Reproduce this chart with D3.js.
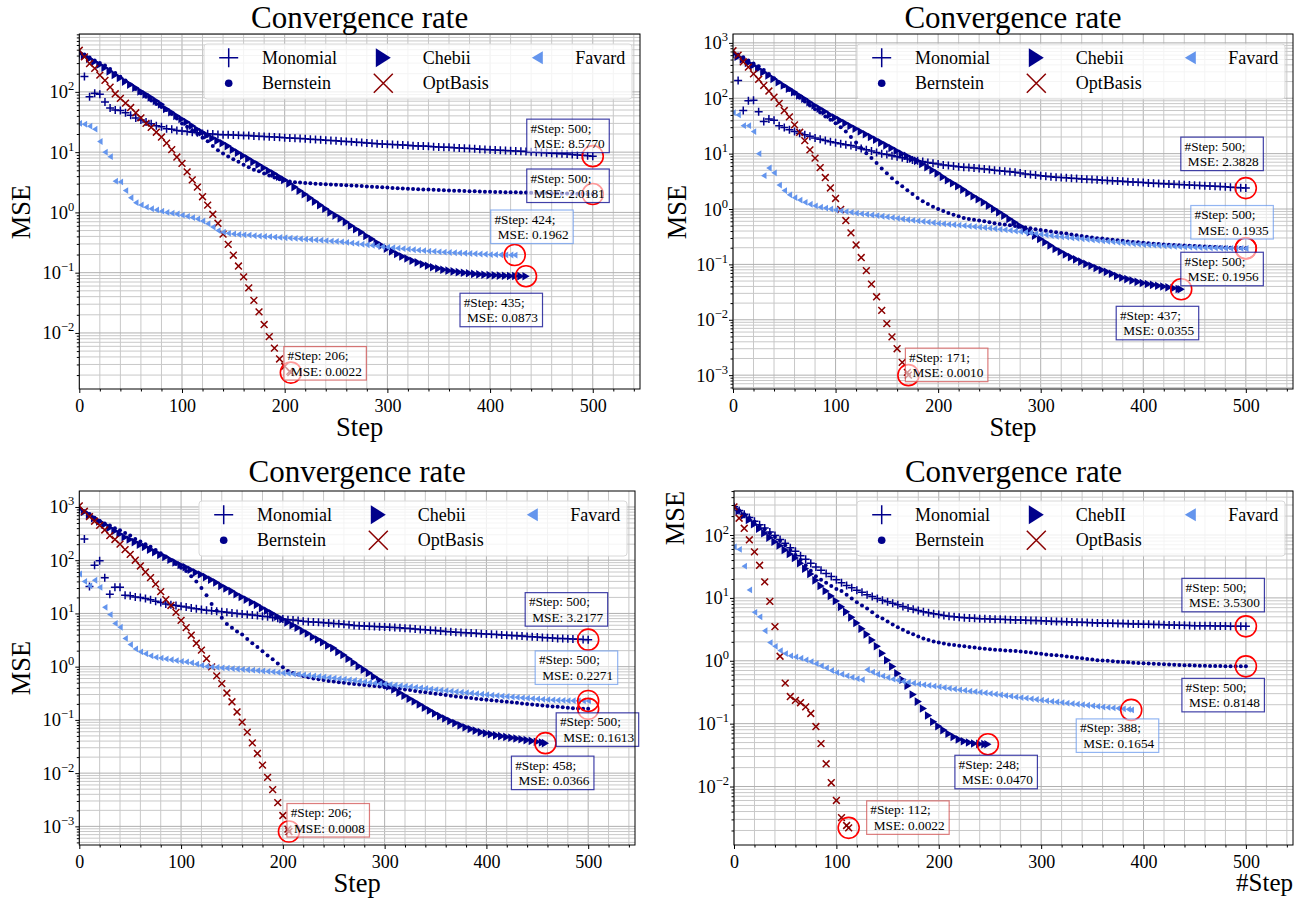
<!DOCTYPE html>
<html><head><meta charset="utf-8">
<script src="https://cdn.jsdelivr.net/npm/d3@7"></script>
<style>
body{margin:0;background:#fff}
svg{display:block}
text{font-family:"Liberation Serif","Times New Roman",Times,serif;fill:#000}
</style>
</head><body>
<svg id="c" width="1305" height="901"></svg>
<script>
// ---------------- DATA ----------------
const SAMPLE_EVERY = 5; // one marker every 5 steps
const titleText = "Convergence rate";
const seriesKeys = ["Monomial","Bernstein","Chebii","OptBasis","Favard"];
const legendLabelsA = ["Monomial","Bernstein","Chebii","OptBasis","Favard"];
const legendLabelsB = ["Monomial","Bernstein","ChebII","OptBasis","Favard"];
const xTickValues = [0,100,200,300,400,500];
const xLabels = ["Step","Step","Step","#Step"];
const yLabel = "MSE";

// Panel 1 (top-left)
const p1Monomial = [420,180,83,95,91,68,54,50,49,45,
 41,37,34,31.6,29.5,27.5,26.3,24.5,24.0,22.9,
 22.4,21.9,21.4,20.9,20.4,20.2,20.0,19.7,19.5,19.4,
 19.2,19.0,18.9,18.8,18.6,18.4,18.2,18.0,17.8,17.6,
 17.4,17.2,17.0,16.8,16.6,16.4,16.2,16.0,15.8,15.6,
 15.4,15.2,15.0,14.8,14.6,14.4,14.2,14.0,13.8,13.6,
 13.5,13.4,13.2,13.1,13.0,12.8,12.7,12.6,12.5,12.3,
 12.2,12.1,12.0,11.8,11.7,11.6,11.5,11.4,11.2,11.1,
 11.0,10.9,10.7,10.6,10.5,10.4,10.3,10.2,10.1,10.0,
 9.9,9.75,9.6,9.5,9.4,9.3,9.15,9.0,8.9,8.75];
const p1Bernstein = [460,415,370,330,300,275,240,205,178,155,
 132,112,95,83,72,63,56,50,43,36,
 30,26.3,22.9,20.0,17.4,15.1,12.6,10.7,9.5,8.5,
 7.6,6.9,6.2,5.6,5.1,4.8,4.4,4.1,3.8,3.55,
 3.4,3.27,3.16,3.12,3.08,3.04,3.00,2.97,2.94,2.91,
 2.88,2.85,2.82,2.79,2.76,2.73,2.70,2.67,2.64,2.61,
 2.58,2.55,2.52,2.49,2.47,2.45,2.43,2.41,2.39,2.37,
 2.35,2.33,2.31,2.29,2.28,2.26,2.25,2.24,2.22,2.21,
 2.20,2.19,2.18,2.17,2.16,2.15,2.14,2.13,2.12,2.11,
 2.10,2.09,2.08,2.07,2.06,2.05,2.045,2.04,2.03,2.025];
const p1Chebii = [447,398,355,316,282,251,219,191,170,148,
 132,117,102,91,81,71,62,52,46,40,
 35.5,31.6,27.5,24.0,21.4,19.1,17.0,15.5,14.1,12.6,
 11.0,9.8,8.7,7.8,6.9,6.2,5.5,4.9,4.4,3.9,
 3.47,3.02,2.63,2.29,2.0,1.74,1.51,1.32,1.15,1.0,
 0.89,0.79,0.69,0.60,0.525,0.468,0.407,0.363,0.316,0.282,
 0.251,0.226,0.204,0.186,0.172,0.158,0.148,0.138,0.130,0.123,
 0.117,0.112,0.108,0.105,0.102,0.100,0.098,0.0955,0.0938,0.0923,
 0.0912,0.0903,0.0895,0.0889,0.0883,0.0879,0.0875];
const p1OptBasis = [490,380,295,245,190,155,120,93,78,65,
 55,45,37,30,25.7,21.4,17.8,14.1,11.0,8.3,
 6.5,4.7,3.47,2.63,1.82,1.32,0.93,0.66,0.437,0.295,
 0.195,0.129,0.085,0.056,0.0347,0.0224,0.0138,0.0087,0.0056,0.0037,
 0.0028,0.0023];
const p1Favard = [30,29,27,24,15,10,8.4,3.3,3.2,2.3,
 1.75,1.45,1.33,1.22,1.15,1.10,1.05,1.00,0.97,0.94,
 0.90,0.86,0.82,0.78,0.72,0.65,0.57,0.50,0.47,0.45,
 0.44,0.43,0.425,0.42,0.41,0.405,0.40,0.395,0.39,0.385,
 0.38,0.375,0.37,0.365,0.36,0.355,0.35,0.345,0.34,0.335,
 0.33,0.325,0.318,0.31,0.303,0.296,0.29,0.283,0.276,0.27,
 0.265,0.26,0.255,0.25,0.245,0.24,0.236,0.232,0.228,0.225,
 0.222,0.219,0.216,0.214,0.212,0.21,0.208,0.206,0.204,0.202,
 0.2,0.199,0.198,0.197,0.1965];
const p1FinalSteps = [500,500,435,206,424];
const p1FinalMSE = [8.5770,2.0181,0.0873,0.0022,0.1962];

// Panel 2 (top-right)
const p2Monomial = [630,210,60,90,92,57,38,42,40,32,
 29.5,27,25,23.4,22,20.5,19.2,18.2,17.2,16.4,
 15.7,15.1,14.5,14.0,13.2,12.4,11.7,11.1,10.5,10.0,
 9.6,9.2,8.8,8.4,8.0,7.7,7.4,7.2,6.9,6.7,
 6.5,6.25,6.1,5.95,5.8,5.7,5.6,5.5,5.4,5.25,
 5.15,5.0,4.9,4.8,4.7,4.6,4.45,4.3,4.2,4.1,
 4.0,3.9,3.82,3.76,3.7,3.65,3.6,3.55,3.5,3.45,
 3.4,3.36,3.32,3.28,3.24,3.2,3.16,3.12,3.08,3.04,
 3.0,2.96,2.93,2.9,2.87,2.84,2.81,2.78,2.75,2.72,
 2.69,2.66,2.63,2.6,2.57,2.54,2.51,2.48,2.45,2.42];
const p2Bernstein = [690,615,550,480,425,380,325,275,230,195,
 166,141,120,102,87,74,63,55,47,41,
 35.5,30,25,20,15.8,12.6,10.2,8.3,6.8,5.4,
 4.4,3.6,3.0,2.57,2.19,1.86,1.58,1.38,1.23,1.10,
 1.0,0.92,0.85,0.79,0.74,0.69,0.66,0.64,0.62,0.60,
 0.575,0.555,0.537,0.525,0.507,0.495,0.48,0.462,0.447,0.432,
 0.417,0.407,0.394,0.38,0.37,0.36,0.347,0.335,0.324,0.316,
 0.305,0.298,0.292,0.285,0.279,0.272,0.266,0.26,0.254,0.25,
 0.245,0.24,0.237,0.234,0.229,0.226,0.224,0.221,0.219,0.216,
 0.214,0.212,0.21,0.208,0.206,0.204,0.202,0.2,0.198,0.197];
const p2Chebii = [630,560,500,436,390,340,295,257,224,195,
 170,148,129,112,98,85,74,65,57.5,50,
 44.7,39.8,35.5,31.6,28.2,25.1,22.4,20.0,17.8,15.8,
 14.1,12.6,11.2,10.0,9.1,8.1,7.4,6.5,5.7,5.0,
 4.4,3.8,3.3,2.92,2.57,2.24,1.95,1.70,1.50,1.32,
 1.15,1.0,0.87,0.76,0.66,0.575,0.50,0.437,0.38,0.331,
 0.288,0.251,0.219,0.19,0.17,0.151,0.135,0.123,0.112,0.102,
 0.0944,0.086,0.079,0.0733,0.0676,0.0617,0.0575,0.0543,0.0513,0.0484,
 0.0462,0.0442,0.0427,0.0412,0.0398,0.0385,0.0372,0.0359];
const p2OptBasis = [720,600,455,365,275,220,170,135,105,81,
 60,46,33,24.3,17.2,11.7,8.3,5.6,3.7,2.4,
 1.55,0.98,0.62,0.37,0.224,0.133,0.077,0.044,0.026,0.0148,
 0.0085,0.0049,0.003,0.0017,0.00112];
const p2Favard = [55,50,32,32,25,10,4.0,5.5,4.5,2.7,
 2.15,1.8,1.6,1.45,1.32,1.22,1.14,1.08,1.04,1.0,
 0.96,0.93,0.90,0.87,0.84,0.82,0.80,0.78,0.76,0.74,
 0.72,0.70,0.68,0.66,0.64,0.625,0.61,0.595,0.58,0.565,
 0.55,0.54,0.53,0.52,0.51,0.50,0.49,0.48,0.47,0.46,
 0.45,0.44,0.43,0.42,0.41,0.40,0.39,0.38,0.37,0.36,
 0.35,0.34,0.33,0.32,0.315,0.31,0.30,0.295,0.29,0.283,
 0.277,0.271,0.265,0.26,0.255,0.25,0.245,0.24,0.236,0.232,
 0.228,0.225,0.222,0.219,0.216,0.213,0.211,0.209,0.207,0.205,
 0.203,0.201,0.2,0.199,0.198,0.197,0.196,0.195,0.1945,0.194];
const p2FinalSteps = [500,500,437,171,500];
const p2FinalMSE = [2.3828,0.1956,0.0355,0.0010,0.1935];

// Panel 3 (bottom-left)
const p3Monomial = [890,250,32,80,98,47,23,31,31,22,
 21.4,20.4,20.0,19.1,18.0,17.0,16.0,15.1,14.6,14.1,
 13.6,13.2,12.7,12.3,11.9,11.5,11.2,11.0,10.7,10.5,
 10.2,10.0,9.8,9.55,9.3,9.1,8.9,8.7,8.4,8.1,
 7.85,7.6,7.5,7.33,7.16,7.0,6.9,6.8,6.7,6.6,
 6.5,6.4,6.25,6.1,5.95,5.9,5.8,5.75,5.7,5.6,
 5.55,5.5,5.45,5.4,5.25,5.2,5.1,5.0,4.95,4.85,
 4.8,4.7,4.6,4.55,4.45,4.4,4.35,4.3,4.25,4.15,
 4.1,4.05,4.0,3.95,3.9,3.85,3.8,3.75,3.7,3.65,
 3.6,3.55,3.5,3.45,3.4,3.38,3.35,3.3,3.28,3.24];
const p3Bernstein = [930,830,740,630,550,490,450,400,365,325,
 290,250,224,200,178,155,135,117,100,85,
 72,63,50,40,30,22,15.1,11.2,8.3,6.3,
 5.4,4.6,4.0,3.3,2.75,2.34,1.95,1.62,1.38,1.15,
 0.98,0.83,0.76,0.71,0.67,0.63,0.60,0.58,0.56,0.54,
 0.525,0.51,0.50,0.485,0.473,0.462,0.452,0.442,0.432,0.422,
 0.412,0.407,0.398,0.385,0.372,0.363,0.35,0.339,0.331,0.32,
 0.309,0.302,0.295,0.285,0.275,0.269,0.263,0.257,0.251,0.245,
 0.24,0.234,0.229,0.224,0.219,0.214,0.209,0.204,0.2,0.195,
 0.19,0.186,0.182,0.178,0.176,0.172,0.17,0.166,0.164,0.162];
const p3Chebii = [930,810,710,615,535,470,405,355,310,270,
 245,219,195,178,158,141,126,115,102,91,
 81,74,66,59,54,48,43,38,33,29.5,
 26.3,22.9,20.4,18.2,16.2,14.5,12.6,11.2,10.0,8.7,
 7.8,6.8,6.0,5.4,4.7,4.2,3.6,3.24,2.88,2.5,
 2.24,1.9,1.66,1.41,1.2,1.02,0.88,0.76,0.65,0.56,
 0.49,0.427,0.372,0.324,0.285,0.251,0.221,0.195,0.17,0.15,
 0.132,0.1175,0.106,0.0955,0.087,0.079,0.0724,0.0676,0.063,0.0589,
 0.0562,0.0537,0.0513,0.0495,0.0479,0.0462,0.0447,0.0432,0.0417,0.0403,
 0.0389,0.0376];
const p3OptBasis = [1050,830,660,540,450,370,290,245,200,158,
 129,100,78,60,47,35.5,25.7,18.2,14.1,10.5,
 7.4,5.4,3.9,2.75,2.04,1.41,0.99,0.67,0.48,0.32,
 0.219,0.141,0.091,0.059,0.037,0.0234,0.0141,0.0083,0.0049,0.0028,
 0.0016,0.00089];
const p3Favard = [55,40,33,42,31,13,9.5,6.5,5.5,3.4,
 2.6,2.15,1.9,1.75,1.6,1.5,1.45,1.4,1.35,1.3,
 1.26,1.23,1.18,1.12,1.06,1.01,0.99,0.97,0.95,0.935,
 0.92,0.905,0.89,0.875,0.86,0.845,0.83,0.815,0.80,0.78,
 0.76,0.745,0.73,0.715,0.70,0.685,0.67,0.655,0.64,0.625,
 0.61,0.595,0.58,0.565,0.55,0.535,0.52,0.505,0.49,0.48,
 0.47,0.46,0.45,0.44,0.43,0.42,0.41,0.40,0.39,0.38,
 0.37,0.362,0.354,0.346,0.338,0.331,0.324,0.317,0.31,0.303,
 0.297,0.291,0.285,0.28,0.275,0.27,0.265,0.26,0.256,0.252,
 0.248,0.244,0.24,0.237,0.234,0.232,0.23,0.229,0.228,0.2275];
const p3FinalSteps = [500,500,458,206,500];
const p3FinalMSE = [3.2177,0.1613,0.0366,0.0008,0.2271];

// Panel 4 (bottom-right)
const p4Monomial = [282,245,214,190,166,145,129,112,98,85,
 74,63,55,47,41,35.5,31,27.5,24.5,21.9,
 19.5,17.4,15.8,14.5,13.2,12.3,11.2,10.5,9.8,9.2,
 8.7,8.2,7.8,7.3,6.9,6.6,6.3,6.0,5.8,5.6,
 5.45,5.25,5.1,5.0,4.9,4.85,4.8,4.73,4.68,4.65,
 4.62,4.59,4.56,4.53,4.5,4.47,4.44,4.41,4.38,4.35,
 4.32,4.29,4.26,4.23,4.2,4.17,4.14,4.11,4.08,4.05,
 4.02,4.0,3.98,3.96,3.94,3.92,3.9,3.88,3.86,3.84,
 3.82,3.8,3.78,3.76,3.74,3.72,3.7,3.68,3.66,3.64,
 3.62,3.61,3.6,3.59,3.58,3.57,3.56,3.55,3.54,3.535];
const p4Bernstein = [282,245,214,186,162,141,123,107,93,81,
 69,58,48,40,33,27,22,19.5,17.4,15.5,
 13.8,12.9,11.2,9.8,8.5,7.6,6.8,5.9,5.1,4.7,
 4.2,3.76,3.4,3.1,2.85,2.63,2.43,2.26,2.14,2.02,
 1.95,1.88,1.82,1.78,1.74,1.70,1.66,1.62,1.58,1.55,
 1.52,1.5,1.48,1.46,1.445,1.43,1.41,1.38,1.35,1.32,
 1.29,1.26,1.23,1.22,1.2,1.17,1.15,1.12,1.1,1.07,
 1.05,1.02,1.01,1.0,0.98,0.965,0.955,0.944,0.933,0.923,
 0.912,0.905,0.898,0.89,0.882,0.874,0.866,0.858,0.852,0.846,
 0.84,0.836,0.832,0.829,0.826,0.823,0.82,0.818,0.816,0.815];
const p4ChebII = [282,240,204,174,148,126,107,91,78,68,
 58,50,43,35.5,29,24,19,15.5,12.9,10.7,
 8.9,7.2,6.0,4.9,4.0,3.24,2.63,2.14,1.70,1.32,
 1.02,0.81,0.63,0.50,0.40,0.29,0.224,0.174,0.135,0.107,
 0.091,0.079,0.069,0.0617,0.0562,0.0525,0.050,0.0484,0.0476,0.0472];
const p4OptBasis = [280,185,128,84,54,33,18,8.8,3.5,1.18,
 0.44,0.27,0.235,0.215,0.185,0.145,0.09,0.048,0.023,0.0115,
 0.006,0.0032,0.0024];
const p4Favard = [65,59,32,13.4,5.9,5.0,3.0,1.95,1.7,1.45,
 1.3,1.2,1.15,1.1,1.03,0.97,0.9,0.83,0.77,0.7,
 0.65,0.61,0.575,0.545,0.52,0.5,0.72,0.66,0.61,0.57,
 0.54,0.51,0.49,0.47,0.455,0.44,0.425,0.415,0.405,0.395,
 0.385,0.375,0.365,0.355,0.345,0.337,0.329,0.322,0.315,0.308,
 0.301,0.294,0.287,0.28,0.273,0.266,0.26,0.254,0.248,0.242,
 0.236,0.231,0.226,0.221,0.216,0.212,0.208,0.204,0.2,0.196,
 0.192,0.188,0.184,0.181,0.178,0.175,0.172,0.169];
const p4FinalSteps = [500,500,248,112,388];
const p4FinalMSE = [3.5300,0.8148,0.0470,0.0022,0.1654];

// ---------------- LAYOUT / STYLE ----------------
const panels = [
 {series:[p1Monomial,p1Bernstein,p1Chebii,p1OptBasis,p1Favard], fs:p1FinalSteps, fm:p1FinalMSE, labels:legendLabelsA,
  left:79.3,right:640,top:34,bottom:389,logMin:-2.93,logMax:2.96,titleY:27.5,xlabY:436,xlabRight:false,ylabX:30,ylabY:212,
  off:[[-66,-37],[-66,-25],[-66,17],[-7,-26],[-24,-45]]},
 {series:[p2Monomial,p2Bernstein,p2Chebii,p2OptBasis,p2Favard], fs:p2FinalSteps, fm:p2FinalMSE, labels:legendLabelsA,
  left:733,right:1293,top:34,bottom:389,logMin:-3.25,logMax:3.16,titleY:27.5,xlabY:436,xlabRight:false,ylabX:686,ylabY:212,
  off:[[-65,-51],[-65,4],[-65,17],[-3,-27],[-55,-43]]},
 {series:[p3Monomial,p3Bernstein,p3Chebii,p3OptBasis,p3Favard], fs:p3FinalSteps, fm:p3FinalMSE, labels:legendLabelsA,
  left:79.3,right:635,top:491,bottom:845,logMin:-3.35,logMax:3.3,titleY:482,xlabY:892,xlabRight:false,ylabX:30,ylabY:668,
  off:[[-63,-47],[-32,4],[-34,13],[-2,-28],[-53,-50]]},
 {series:[p4Monomial,p4Bernstein,p4ChebII,p4OptBasis,p4Favard], fs:p4FinalSteps, fm:p4FinalMSE, labels:legendLabelsB,
  left:734,right:1293,top:491,bottom:845,logMin:-2.93,logMax:2.70,titleY:482,xlabY:891,xlabRight:true,ylabX:684,ylabY:518,
  off:[[-64,-48],[-64,12],[-33,11],[18,-27],[-55,9]]}
];

const DARK = "#00008b", LIGHT = "#6495ed", RED = "#8b0000";
const styles = [
 {kind:"plus", color:DARK, s:4, ls:9.5},
 {kind:"dot", color:DARK, s:2, ls:3.8},
 {kind:"triR", color:DARK, s:[3.6,4.3], ls:[7.5,9.5]},
 {kind:"cross", color:RED, s:3.4, ls:9.5},
 {kind:"triL", color:LIGHT, s:[2.7,3.4], ls:[5.5,6.5]}
];

function drawMarker(sel, st, size){
 if(st.kind==="dot"){
  return sel.append("circle").attr("r",size).attr("fill",st.color);
 }
 let d;
 if(st.kind==="plus") d=`M${-size},0H${size}M0,${-size}V${size}`;
 if(st.kind==="cross") d=`M${-size},${-size}L${size},${size}M${-size},${size}L${size},${-size}`;
 if(st.kind==="triR") d=`M${-size[0]},${-size[1]}L${size[0]},0L${-size[0]},${size[1]}Z`;
 if(st.kind==="triL") d=`M${size[0]},${-size[1]}L${-size[0]},0L${size[0]},${size[1]}Z`;
 const p = sel.append("path").attr("d",d);
 if(st.kind==="plus"||st.kind==="cross") p.attr("fill","none").attr("stroke",st.color).attr("stroke-width",1.5);
 else p.attr("fill",st.color);
 return p;
}

const svg = d3.select("#c");

panels.forEach((P,pi)=>{
 const g = svg.append("g");
 const x = d3.scaleLinear().domain([0,546]).range([P.left,P.right]);
 const y = d3.scaleLog().domain([Math.pow(10,P.logMin),Math.pow(10,P.logMax)]).range([P.bottom,P.top]);
 const clipId = "clip"+pi;
 svg.append("clipPath").attr("id",clipId).append("rect")
  .attr("x",P.left).attr("y",P.top).attr("width",P.right-P.left).attr("height",P.bottom-P.top);

 // grid
 const grid = g.append("g");
 const xMinor = d3.range(0,547,20);
 xMinor.forEach(v=>{
  grid.append("line").attr("x1",x(v)).attr("x2",x(v)).attr("y1",P.top).attr("y2",P.bottom)
   .attr("stroke", v%100===0?"#b0b0b0":"#c8c8c8").attr("stroke-width",1);
 });
 const yMajor=[], yMinor=[];
 for(let e=Math.floor(P.logMin); e<=Math.ceil(P.logMax); e++){
  for(let k=1;k<10;k++){
   const v=k*Math.pow(10,e);
   const lv=Math.log10(v);
   if(lv<P.logMin||lv>P.logMax) continue;
   (k===1?yMajor:yMinor).push(v);
  }
 }
 yMinor.forEach(v=>grid.append("line").attr("x1",P.left).attr("x2",P.right).attr("y1",y(v)).attr("y2",y(v))
   .attr("stroke","#c8c8c8").attr("stroke-width",1));
 yMajor.forEach(v=>grid.append("line").attr("x1",P.left).attr("x2",P.right).attr("y1",y(v)).attr("y2",y(v))
   .attr("stroke","#b0b0b0").attr("stroke-width",1));

 // axes
 const xAx = g.append("g").attr("transform",`translate(0,${P.bottom})`)
  .call(d3.axisBottom(x).tickValues(xTickValues).tickSize(4).tickPadding(3).tickFormat(d3.format("d")));
 xAx.select(".domain").remove();
 xAx.selectAll("text").attr("font-size",18).attr("font-family","Liberation Serif").attr("dy","0.9em");
 const xAxm = g.append("g").attr("transform",`translate(0,${P.bottom})`)
  .call(d3.axisBottom(x).tickValues(xMinor.filter(v=>v%100!==0)).tickSize(2.5).tickFormat(""));
 xAxm.select(".domain").remove();

 const yAx = g.append("g").attr("transform",`translate(${P.left},0)`)
  .call(d3.axisLeft(y).tickValues(yMajor).tickSize(4).tickFormat(""));
 yAx.select(".domain").remove();
 const yAxm = g.append("g").attr("transform",`translate(${P.left},0)`)
  .call(d3.axisLeft(y).tickValues(yMinor).tickSize(2.5).tickFormat(""));
 yAxm.select(".domain").remove();
 yMajor.forEach(v=>{
  const e = Math.round(Math.log10(v));
  const t = g.append("text").attr("x",P.left-5).attr("y",y(v)+6.5).attr("text-anchor","end").attr("font-size",18.5);
  t.append("tspan").text("10");
  t.append("tspan").attr("dy",-8).attr("font-size",12.5).text(String(e).replace("-","\u2212"));
 });

 // series
 const plot = g.append("g").attr("clip-path",`url(#${clipId})`);
 P.series.forEach((vals,si)=>{
  const st = styles[si];
  const pts = vals.map((v,i)=>({s:i*SAMPLE_EVERY, v}));
  pts.push({s:P.fs[si], v:P.fm[si]});
  const sg = plot.append("g");
  pts.forEach(p=>{
   const m = drawMarker(sg, st, st.s);
   m.attr("transform",`translate(${x(p.s)},${y(p.v)})`);
  });
 });

 // circles
 P.series.forEach((vals,si)=>{
  g.append("circle").attr("cx",x(P.fs[si])).attr("cy",y(P.fm[si])).attr("r",10.5)
   .attr("fill","none").attr("stroke","#ff0000").attr("stroke-width",1.6);
 });
 // annotation boxes
 P.series.forEach((vals,si)=>{
  const px=x(P.fs[si]), py=y(P.fm[si]);
  const bx=px+P.off[si][0], by=py+P.off[si][1];
  const col = styles[si].color;
  g.append("rect").attr("x",bx).attr("y",by).attr("width",82.5).attr("height",33.5)
   .attr("fill","#fff").attr("fill-opacity",0.6).attr("stroke",col==="#8b0000"?"#d05050":col)
   .attr("stroke-opacity",col===LIGHT?0.7:0.75).attr("stroke-width",1.2);
  g.append("text").attr("x",bx+3.7).attr("y",by+13.5).attr("font-size",13.3).text(`#Step: ${P.fs[si]};`);
  g.append("text").attr("x",bx+3.7).attr("y",by+29).attr("font-size",13.3).attr("xml:space","preserve")
   .style("white-space","pre").text(` MSE: ${P.fm[si].toFixed(4)}`);
 });

 // legend
 const lw=428, lh=55;
 const lx=P.right-8-lw, ly=P.top+10;
 const lg=g.append("g");
 lg.append("rect").attr("x",lx).attr("y",ly).attr("width",lw).attr("height",lh).attr("rx",3)
  .attr("fill","#fff").attr("fill-opacity",0.8).attr("stroke","#d8d8d8").attr("stroke-width",1);
 const colM=[24.7,179.3,333.3], colT=[58,218.7,371.3], rowY=[13.7,39.3];
 seriesKeys.forEach((k,si)=>{
  const c=Math.floor(si/2), r=si%2;
  const st=styles[si];
  const m=drawMarker(lg, st, st.ls);
  m.attr("transform",`translate(${lx+colM[c]},${ly+rowY[r]})`);
  lg.append("text").attr("x",lx+colT[c]).attr("y",ly+rowY[r]+6).attr("font-size",18).text(P.labels[si]);
 });

 // frame
 g.append("rect").attr("x",P.left).attr("y",P.top).attr("width",P.right-P.left).attr("height",P.bottom-P.top)
  .attr("fill","none").attr("stroke","#000").attr("stroke-width",1);

 // title and labels
 g.append("text").attr("x",(P.left+P.right)/2).attr("y",P.titleY).attr("text-anchor","middle").attr("font-size",31).text(titleText);
 if(P.xlabRight){
  g.append("text").attr("x",P.right).attr("y",P.xlabY).attr("text-anchor","end").attr("font-size",25).text(xLabels[pi]);
 } else {
  g.append("text").attr("x",(P.left+P.right)/2).attr("y",P.xlabY).attr("text-anchor","middle").attr("font-size",26.5).text(xLabels[pi]);
 }
 g.append("text").attr("transform",`translate(${P.ylabX},${P.ylabY}) rotate(-90)`).attr("text-anchor","middle")
  .attr("font-size",26.5).text(yLabel);
});
</script>
</body></html>
